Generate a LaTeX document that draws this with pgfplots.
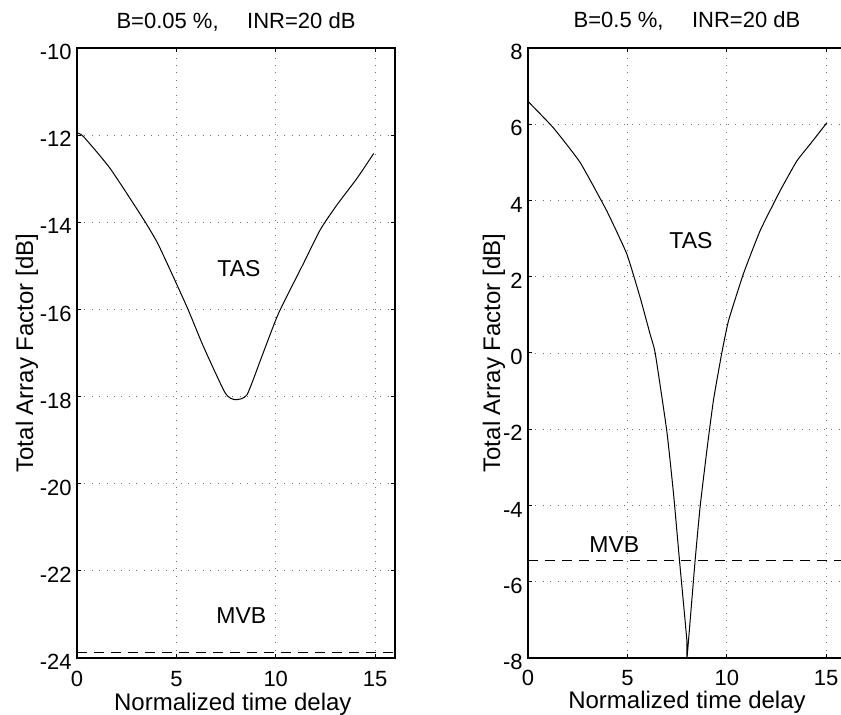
\documentclass[border=0pt]{standalone}
\usepackage{pgfplots}
\pgfplotsset{compat=1.18}
\usepackage{fontspec}
\setmainfont{Liberation Sans}

\pgfplotsset{
  panel/.style={
    scale only axis,
    width=159pt, height=305pt,
    xmin=0, xmax=16,
    xtick={0,5,10,15},
    /pgf/number format/assume math mode=true,
    axis line style={black, line width=0.6pt},
    tick style={black, line width=0.5pt},
    major tick length=2.2pt,
    grid=major,
    major grid style={black!55, line width=0.45pt, dash pattern=on 0.5pt off 3.2pt},
    tick label style={font=\fontsize{11}{13}\selectfont},
    yticklabel style={anchor=base east, inner sep=0pt, xshift=-2.5pt, yshift=-5.8pt},
    title style={anchor=base, yshift=4pt, font=\fontsize{11}{13}\selectfont},
    xlabel={Normalized time delay},
    ylabel={Total Array Factor [dB]},
    xlabel style={font=\fontsize{12}{14}\selectfont},
    ylabel style={font=\fontsize{12}{14}\selectfont, anchor=base},
    tas/.style={black, line width=0.5pt, smooth, tension=0.35},
    mvb/.style={black, line width=0.5pt, dash pattern=on 5pt off 3.5pt},
  },
}

\begin{document}
\begin{tikzpicture}
% left panel
\begin{axis}[panel,
  at={(0,0)}, anchor=south west,
  ymin=-24, ymax=-10,
  ytick={-24,-22,...,-10},
  title={B=0.05 \%,\hspace{1.3em}INR=20 dB},
  xticklabel style={anchor=base, yshift=-14pt},
  xlabel style={at={(axis description cs:0.49,0)}, anchor=base, yshift=-26pt},
  ylabel style={at={(axis description cs:-0.138,0.5)}},
]
\addplot[tas] coordinates {
  (0,-11.95) (0.32,-12.03) (1.66,-12.76) (3.26,-13.87) (4.1,-14.52)
  (5.52,-15.93) (6.36,-16.85) (7.46,-17.92) (7.96,-18.07) (8.55,-17.96)
  (9.3,-17.08) (10.14,-16.09) (11.4,-14.94) (12.24,-14.17) (13.08,-13.6)
  (14.09,-12.99) (14.93,-12.42)
};
\addplot[mvb] coordinates {(0,-23.87) (16,-23.87)};
\node[anchor=base, font=\fontsize{11.5}{13}\selectfont] at (axis cs:8.15,-15.24) {TAS};
\node[anchor=base, font=\fontsize{11.5}{13}\selectfont] at (axis cs:8.27,-23.2) {MVB};
\end{axis}

% right panel
\begin{axis}[panel,
  at={(225.5pt,0)}, anchor=south west,
  ymin=-8, ymax=8,
  ytick={-8,-6,...,8},
  title={B=0.5 \%,\hspace{1.3em}INR=20 dB},
  xticklabel style={anchor=base, yshift=-13.5pt},
  xlabel style={at={(axis description cs:0.5,0)}, anchor=base, yshift=-25pt},
  ylabel style={at={(axis description cs:-0.088,0.5)}},
]
\addplot[tas, tension=0.25] coordinates {
  (0,6.6) (1.27,5.91) (2.62,5.0) (3.96,3.73) (4.97,2.6) (5.64,1.46)
  (6.14,0.5) (6.4,0.0) (6.98,-2.03) (7.32,-3.68) (7.62,-5.43) (7.99,-7.52)
  (8,-8) (8.41,-5.43) (8.66,-4.03) (9.0,-2.55) (9.33,-1.24) (9.75,0.0)
  (10.09,0.85) (10.84,2.08) (11.68,3.21) (12.69,4.26) (13.53,5.04)
  (14.2,5.48) (15.04,6.04)
};
\addplot[mvb] coordinates {(0,-5.44) (16,-5.44)};
\node[anchor=base, font=\fontsize{11.5}{13}\selectfont] at (axis cs:8.2,2.73) {TAS};
\node[anchor=base, font=\fontsize{11.5}{13}\selectfont] at (axis cs:4.34,-5.24) {MVB};
\end{axis}

\pgfresetboundingbox
\path[use as bounding box] (-38.5pt,-28pt) rectangle (382pt,329pt);
\end{tikzpicture}
\end{document}
